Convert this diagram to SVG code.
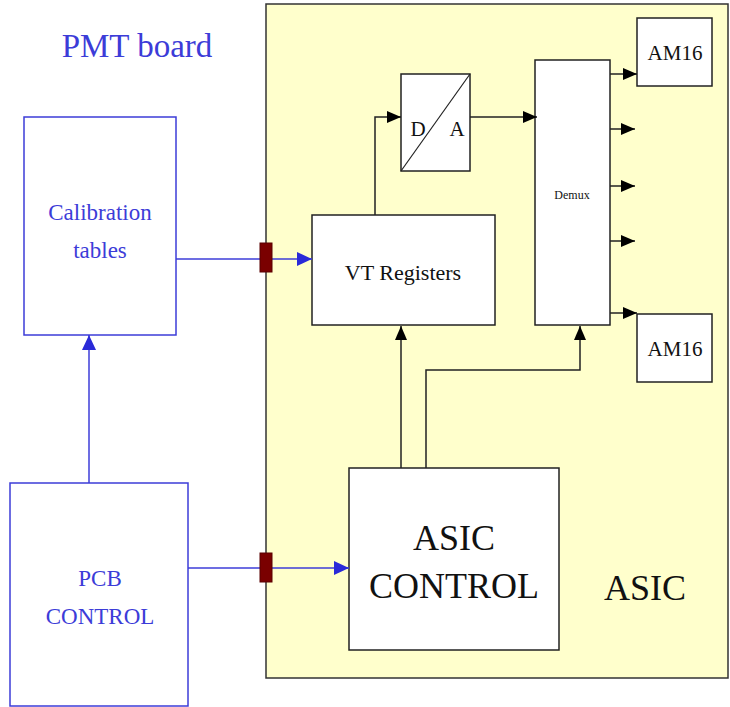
<svg xmlns="http://www.w3.org/2000/svg" width="730" height="707" viewBox="0 0 730 707">
<style>
.box{fill:#fff;stroke:#222;stroke-width:1.5}
.bbox{fill:#fff;stroke:#3c3cd8;stroke-width:1.5}
.t{font-family:'Liberation Serif','DejaVu Serif','Times New Roman',Times,serif;fill:#111;text-anchor:middle}
.bt{font-family:'Liberation Serif','DejaVu Serif','Times New Roman',Times,serif;fill:#3c3cd8;text-anchor:middle}
.k{fill:none;stroke:#222;stroke-width:1.5}
.b{fill:none;stroke:#3c3cd8;stroke-width:1.5}
.pad{fill:#7a0000;stroke:#5a0000;stroke-width:1}
</style>
<defs>
<marker id="ak" viewBox="0 0 14 12" refX="14" refY="6" markerWidth="14" markerHeight="12" markerUnits="userSpaceOnUse" orient="auto"><path d="M0,0 L14,6 L0,12 z" fill="#000"/></marker>
<marker id="ab" viewBox="0 0 15 14" refX="15" refY="7" markerWidth="15" markerHeight="14" markerUnits="userSpaceOnUse" orient="auto"><path d="M0,0 L15,7 L0,14 z" fill="#2a2ad8"/></marker>
</defs>
<rect width="730" height="707" fill="#fff"/>
<g id="asic">
<rect x="266" y="4" width="462" height="674" fill="#ffffcc" stroke="#333" stroke-width="1.5"/>
<text class="t" x="645" y="600" font-size="36">ASIC</text>
</g>
<text class="bt" x="137" y="57" font-size="33">PMT board</text>
<g id="calib">
<rect class="bbox" x="24" y="117" width="152" height="218"/>
<text class="bt" x="100" y="220" font-size="23">Calibration</text>
<text class="bt" x="100" y="258" font-size="23">tables</text>
</g>
<g id="pcb">
<rect class="bbox" x="10" y="483" width="178" height="223"/>
<text class="bt" x="100" y="586" font-size="23">PCB</text>
<text class="bt" x="100" y="624" font-size="23">CONTROL</text>
</g>
<g id="vtreg">
<rect class="box" x="312" y="215" width="183" height="110"/>
<text class="t" x="403" y="280" font-size="22">VT Registers</text>
</g>
<g id="da">
<rect class="box" x="401" y="74" width="69" height="97"/>
<line x1="401" y1="171" x2="470" y2="74" stroke="#222" stroke-width="1.2"/>
<text class="t" x="418" y="136" font-size="21">D</text>
<text class="t" x="457" y="136" font-size="21">A</text>
</g>
<g id="demux">
<rect class="box" x="535" y="60" width="75" height="265"/>
<text class="t" x="572" y="199" font-size="12">Demux</text>
</g>
<g id="am16a">
<rect class="box" x="637" y="18" width="75" height="68"/>
<text class="t" x="675" y="60" font-size="21">AM16</text>
</g>
<g id="am16b">
<rect class="box" x="637" y="314" width="75" height="68"/>
<text class="t" x="675" y="356" font-size="21">AM16</text>
</g>
<g id="asicctl">
<rect class="box" x="349" y="468" width="210" height="182"/>
<text class="t" x="454" y="550" font-size="36">ASIC</text>
<text class="t" x="454" y="598" font-size="36">CONTROL</text>
</g>
<g id="connectors">
<line class="b" x1="176" y1="259" x2="312" y2="259" marker-end="url(#ab)"/>
<line class="b" x1="188" y1="568" x2="349" y2="568" marker-end="url(#ab)"/>
<line class="b" x1="89" y1="483" x2="89" y2="335" marker-end="url(#ab)"/>
<rect class="pad" x="260" y="243" width="12" height="29"/>
<rect class="pad" x="260" y="553" width="12" height="29"/>
<polyline class="k" points="375,215 375,117 401,117" marker-end="url(#ak)"/>
<line class="k" x1="470" y1="117" x2="537" y2="117" marker-end="url(#ak)"/>
<line class="k" x1="610" y1="74" x2="637" y2="74" marker-end="url(#ak)"/>
<line class="k" x1="610" y1="129" x2="635" y2="129" marker-end="url(#ak)"/>
<line class="k" x1="610" y1="186" x2="635" y2="186" marker-end="url(#ak)"/>
<line class="k" x1="610" y1="241" x2="635" y2="241" marker-end="url(#ak)"/>
<line class="k" x1="610" y1="313" x2="637" y2="313" marker-end="url(#ak)"/>
<line class="k" x1="401" y1="468" x2="401" y2="326" marker-end="url(#ak)"/>
<polyline class="k" points="426,468 426,370 580,370 580,326" marker-end="url(#ak)"/>
</g>
</svg>
